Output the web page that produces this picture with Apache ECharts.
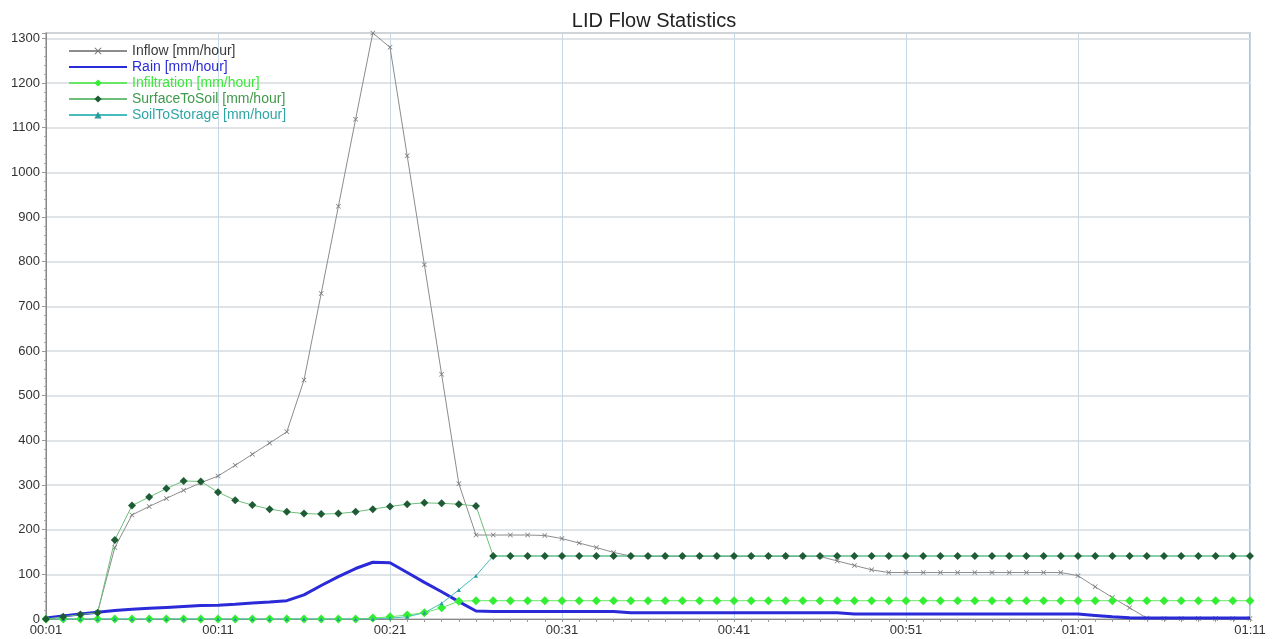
<!DOCTYPE html>
<html>
<head>
<meta charset="utf-8">
<title>LID Flow Statistics</title>
<script src="https://cdn.jsdelivr.net/npm/echarts@6/dist/echarts.min.js"></script>
<style>
  html, body { margin: 0; padding: 0; background: #ffffff; }
  #chart { width: 1280px; height: 639px; }
</style>
</head>
<body>
<div id="chart"></div>
<script>
// Time steps, one per minute from 00:01 to 01:11
const startMinute = 1;
const stepCount = 71;
const times = [];
for (let k = 0; k < stepCount; k++) {
  const m = startMinute + k;
  const hh = String(Math.floor(m / 60)).padStart(2, '0');
  const mm = String(m % 60).padStart(2, '0');
  times.push(hh + ':' + mm);
}

// Flow rates in mm/hour
const inflow = [
  0, 5, 10, 15, 160, 233, 252, 270, 288, 305,
  320, 344, 369, 394, 419, 535, 729, 924, 1119, 1312,
  1280, 1037, 793, 548, 303, 188, 188, 188, 188, 187,
  180, 170, 160, 149, 141, 140, 140, 140, 140, 140,
  140, 140, 140, 140, 140, 140, 130, 120, 110, 104,
  104, 104, 104, 104, 104, 104, 104, 104, 104, 104,
  97, 72, 48, 25, 2, 1, 1, 1, 1, 1,
  1
];
const rain = [
  2, 7, 11, 15, 19, 22, 24, 26, 28, 30,
  31, 33, 36, 38, 41, 54, 75, 95, 113, 127,
  126, 104, 82, 61, 39, 18, 17, 17, 17, 17,
  17, 17, 17, 17, 14, 14, 14, 14, 14, 14,
  14, 14, 14, 14, 14, 14, 14, 11, 11, 11,
  11, 11, 11, 11, 11, 11, 11, 11, 11, 11,
  11, 8, 5, 3, 2, 2, 2, 2, 2, 2,
  2
];
const infiltration = [
  0, 0, 0, 0, 0, 0, 0, 0, 0, 0,
  0, 0, 0, 0, 0, 0, 0, 0, 0, 2,
  5, 9, 14, 25, 40, 41, 41, 41, 41, 41,
  41, 41, 41, 41, 41, 41, 41, 41, 41, 41,
  41, 41, 41, 41, 41, 41, 41, 41, 41, 41,
  41, 41, 41, 41, 41, 41, 41, 41, 41, 41,
  41, 41, 41, 41, 41, 41, 41, 41, 41, 41,
  41
];
const surfaceToSoil = [
  0, 5, 10, 14, 177, 254, 273, 292, 309, 308,
  284, 266, 255, 246, 240, 236, 235, 236, 240, 246,
  252, 257, 260, 259, 257, 253, 141, 141, 141, 141,
  141, 141, 141, 141, 141, 141, 141, 141, 141, 141,
  141, 141, 141, 141, 141, 141, 141, 141, 141, 141,
  141, 141, 141, 141, 141, 141, 141, 141, 141, 141,
  141, 141, 141, 141, 141, 141, 141, 141, 141, 141,
  141
];
const soilToStorage = [
  0, 0, 0, 0, 0, 0, 0, 0, 0, 0,
  0, 0, 0, 0, 0, 0, 0, 0, 0, 0,
  2, 5, 14, 35, 65, 97, 141, 141, 141, 141,
  141, 141, 141, 141, 141, 141, 141, 141, 141, 141,
  141, 141, 141, 141, 141, 141, 141, 141, 141, 141,
  141, 141, 141, 141, 141, 141, 141, 141, 141, 141,
  141, 141, 141, 141, 141, 141, 141, 141, 141, 141,
  141
];

const seriesNames = [
  'Inflow [mm/hour]',
  'Rain [mm/hour]',
  'Infiltration [mm/hour]',
  'SurfaceToSoil [mm/hour]',
  'SoilToStorage [mm/hour]'
];

const FONT = '"Liberation Sans", Arial, sans-serif';
const crossSymbol = 'path://M0,1 L1,0 L5,4 L9,0 L10,1 L6,5 L10,9 L9,10 L5,6 L1,10 L0,9 L4,5 Z';

const chart = echarts.init(document.getElementById('chart'), null, { renderer: 'canvas' });

chart.setOption({
  animation: false,
  backgroundColor: '#ffffff',
  textStyle: { fontFamily: FONT },
  title: {
    text: 'LID Flow Statistics',
    left: 649,
    top: 6,
    textAlign: 'center',
    textStyle: { fontFamily: FONT, fontSize: 20, fontWeight: 'normal', color: '#222222' }
  },
  legend: {
    orient: 'vertical',
    left: 63,
    top: 39,
    itemWidth: 58,
    itemHeight: 9,
    itemGap: 2,
    textStyle: { fontFamily: FONT, fontSize: 14, lineHeight: 14 },
    data: [
      { name: seriesNames[0], textStyle: { color: '#3a3a3a' } },
      { name: seriesNames[1], textStyle: { color: '#2a2ad8' }, itemStyle: { opacity: 0 } },
      { name: seriesNames[2], textStyle: { color: '#3be83b' } },
      { name: seriesNames[3], textStyle: { color: '#3f9a4a' } },
      { name: seriesNames[4], textStyle: { color: '#2fa5a5' } }
    ]
  },
  grid: {
    left: 46,
    right: 30,
    top: 33,
    bottom: 20,
    show: true,
    borderColor: '#aaaaaa',
    borderWidth: 1.5
  },
  xAxis: {
    type: 'category',
    data: times,
    boundaryGap: false,
    axisLine: { show: true, lineStyle: { color: '#888888', width: 1 } },
    axisTick: { show: true, interval: 0, length: 3, lineStyle: { color: '#999999' } },
    axisLabel: { interval: 9, fontSize: 13, color: '#333333', margin: 5, fontFamily: FONT },
    splitLine: { show: true, interval: 9, lineStyle: { color: '#c6d9e6', width: 1 } }
  },
  yAxis: {
    type: 'value',
    min: 0,
    max: 1312,
    interval: 100,
    axisLine: { show: true, lineStyle: { color: '#888888', width: 1 } },
    axisTick: { show: true, length: 4, lineStyle: { color: '#999999' } },
    minorTick: { show: true, splitNumber: 5, length: 2, lineStyle: { color: '#aaaaaa' } },
    axisLabel: {
      fontSize: 13,
      color: '#333333',
      margin: 6,
      showMaxLabel: false,
      fontFamily: FONT,
      formatter: (v) => String(v)
    },
    splitLine: { show: true, lineStyle: { color: '#d6dbdf', width: 1.5 } }
  },
  series: [
    {
      name: seriesNames[0],
      type: 'line',
      data: inflow,
      symbol: crossSymbol,
      symbolSize: 5,
      itemStyle: { color: '#777777' },
      lineStyle: { color: '#8c8c8c', width: 1 },
      z: 2
    },
    {
      name: seriesNames[1],
      type: 'line',
      data: rain,
      symbol: 'none',
      itemStyle: { color: '#2a2ad8' },
      lineStyle: { color: '#2a2ad8', width: 3 },
      z: 3
    },
    {
      name: seriesNames[2],
      type: 'line',
      data: infiltration,
      symbol: 'diamond',
      symbolSize: 9,
      itemStyle: { color: '#33ee33' },
      lineStyle: { color: '#66e866', width: 1 },
      z: 4
    },
    {
      name: seriesNames[3],
      type: 'line',
      data: surfaceToSoil,
      symbol: 'diamond',
      symbolSize: 8,
      itemStyle: { color: '#1f5c36' },
      lineStyle: { color: '#6cc07a', width: 1 },
      z: 5
    },
    {
      name: seriesNames[4],
      type: 'line',
      data: soilToStorage,
      symbol: 'triangle',
      symbolSize: 4,
      itemStyle: { color: '#2a9d9d' },
      lineStyle: { color: '#48bcbc', width: 1 },
      z: 4
    }
  ]
});
</script>
</body>
</html>
